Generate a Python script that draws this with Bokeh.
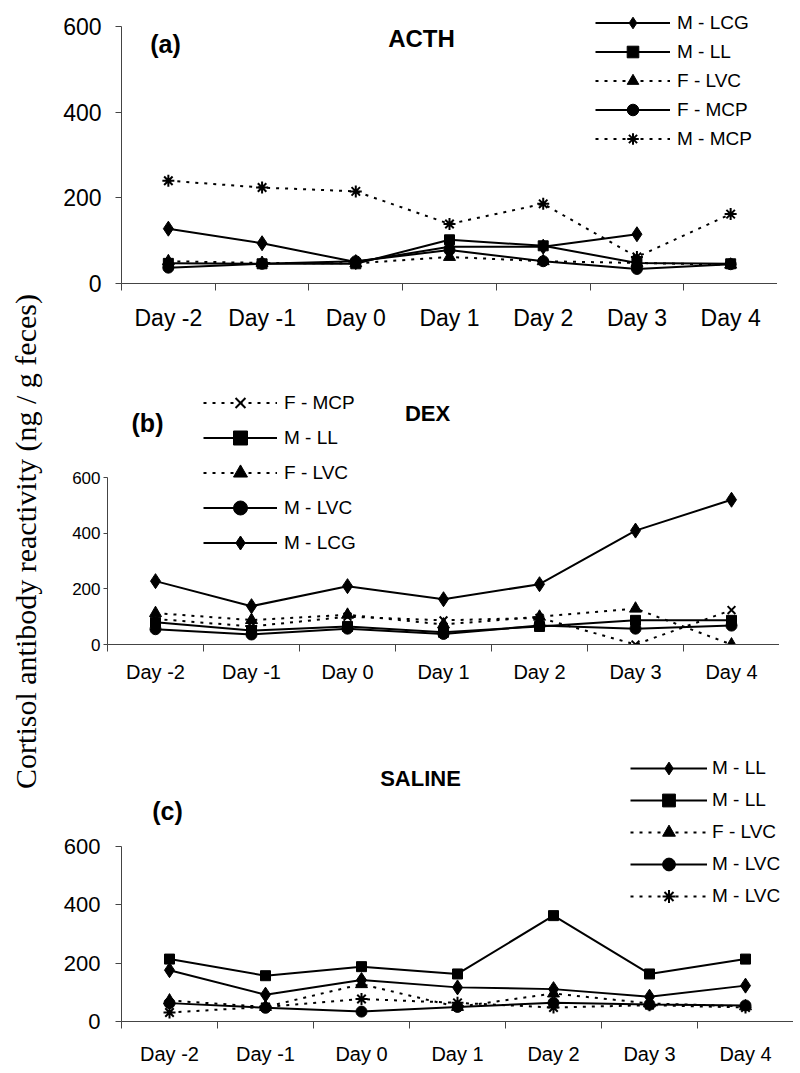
import numpy as np
from bokeh.plotting import figure
from bokeh.models import Range1d, FixedTicker, Legend, LegendItem, Label
from bokeh.layouts import row, column
from bokeh.embed import file_html
from bokeh.resources import INLINE

nan = float("nan")

# ---------------- data ----------------
days = ["Day -2", "Day -1", "Day 0", "Day 1", "Day 2", "Day 3", "Day 4"]
days_c = ["Day -2", "Day -1", "Day 0", "Day 1", "Day 2", "Day 3", "Day 4"]
y_ticks = [0, 200, 400, 600]
y_title = "Cortisol antibody reactivity (ng / g feces)"

# (a) ACTH
acth_labels = ["M - LCG", "M - LL", "F - LVC", "F - MCP", "M - MCP"]
acth_m_lcg = [128, 94, 50, 86, 86, 115, nan]
acth_m_ll = [47, 46, 46, 102, 88, 48, 46]
acth_f_lvc = [52, 48, 47, 62, 52, 48, 44]
acth_f_mcp = [37, 46, 52, 78, 52, 34, 45]
acth_m_mcp = [240, 224, 215, 139, 186, 62, 162]

# (b) DEX
dex_labels = ["F - MCP", "M - LL", "F - LVC", "M - LVC", "M - LCG"]
dex_f_mcp = [92, 65, 100, 87, 96, 0, 124]
dex_m_ll = [80, 50, 65, 44, 65, 87, 87]
dex_f_lvc = [113, 88, 107, 72, 100, 129, 0]
dex_m_lvc = [55, 36, 57, 38, 68, 57, 68]
dex_m_lcg = [228, 138, 210, 163, 217, 410, 521]

# (c) SALINE
sal_labels = ["M - LL", "M - LL", "F - LVC", "M - LVC", "M - LVC"]
sal_m_ll_d = [176, 92, 142, 117, 111, 85, 123]
sal_m_ll_s = [214, 157, 188, 163, 363, 163, 214]
sal_f_lvc = [72, 50, 128, 50, 96, 62, 52]
sal_m_lvc_c = [63, 47, 34, 50, 64, 58, 55]
sal_m_lvc_st = [31, 50, 77, 64, 48, 56, 48]

SANS = "Liberation Sans"
DOT = "3 6"
AX = "#444444"
LABEL_W = 44


def add_series(p, cats, vals, marker, dotted):
    x = np.arange(1, len(cats) + 1)
    y = np.array(vals, dtype=float)
    rs = [p.line(x, y, line_color="black", line_width=2,
                 line_dash=DOT if dotted else "solid")]
    if marker == "diamond":
        rs.append(p.scatter(x, y, marker="diamond", size=15,
                            fill_color="black", line_color="black"))
    elif marker == "square":
        rs.append(p.scatter(x, y, marker="square", size=10,
                            fill_color="black", line_color="black"))
    elif marker == "triangle":
        rs.append(p.scatter(x, y, marker="triangle", size=12,
                            fill_color="black", line_color="black"))
    elif marker == "circle":
        rs.append(p.scatter(x, y, marker="circle", size=11,
                            fill_color="black", line_color="black"))
    elif marker == "x":
        rs.append(p.scatter(x, y, marker="x", size=11, line_width=2,
                            line_color="black"))
    elif marker == "star":
        rs.append(p.scatter(x, y, marker="asterisk", size=12, line_width=2,
                            line_color="black"))
    return rs


def make_panel(cats, width, height, bl, bb, px_per_600, yfont, xfont,
               ytick_out, ystandoff, xstandoff):
    # frame spans from the top of the figure to the x axis; the y axis line
    # is bounded to 0..600 so the space above holds titles and legend
    n = len(cats)
    frame_h = height - bb
    y_end = frame_h * y_ticks[-1] / px_per_600
    p = figure(width=width, height=height, x_range=Range1d(0.5, n + 0.5),
               y_range=Range1d(0, y_end),
               output_backend="svg", toolbar_location=None,
               min_border_left=bl, min_border_right=0,
               min_border_top=0, min_border_bottom=bb)
    p.outline_line_color = None
    p.grid.visible = False
    p.background_fill_color = None
    p.border_fill_color = None
    xa = p.xaxis[0]
    xa.ticker = FixedTicker(ticks=list(range(1, n + 1)),
                            minor_ticks=list(np.arange(n + 1) + 0.5))
    xa.major_label_overrides = {i + 1: c for i, c in enumerate(cats)}
    xa.major_tick_out = 0
    xa.major_tick_in = 0
    xa.minor_tick_out = 7
    xa.minor_tick_in = 0
    xa.minor_tick_line_color = AX
    xa.axis_line_color = AX
    xa.major_label_text_font = SANS
    xa.major_label_text_font_size = xfont
    xa.major_label_text_color = "black"
    xa.major_label_standoff = xstandoff
    ya = p.yaxis[0]
    ya.ticker = FixedTicker(ticks=y_ticks, minor_ticks=[])
    ya.bounds = (y_ticks[0], y_ticks[-1])
    ya.major_tick_out = ytick_out
    ya.major_tick_in = 0
    ya.minor_tick_out = 0
    ya.major_tick_line_color = AX
    ya.axis_line_color = AX
    ya.major_label_text_font = SANS
    ya.major_label_text_font_size = yfont
    ya.major_label_text_color = "black"
    ya.major_label_standoff = ystandoff
    return p


def add_legend(p, items, loc, glyph_w, pitch, standoff, font):
    lg = Legend(items=[LegendItem(label=l, renderers=r) for l, r in items],
                location=loc, orientation="vertical",
                label_text_font=SANS, label_text_font_size=font,
                label_text_color="black",
                glyph_width=glyph_w, glyph_height=pitch, label_height=pitch,
                label_width=80, spacing=0, padding=0, margin=0,
                label_standoff=standoff,
                border_line_color=None, background_fill_alpha=0)
    p.add_layout(lg)


def add_text(p, sx, sy, text, size):
    p.add_layout(Label(x=sx, y=sy, x_units="screen", y_units="screen",
                       text=text, text_font=SANS, text_font_style="bold",
                       text_font_size=size, text_align="center",
                       text_baseline="middle", text_color="black"))


# ---------------- panel (a) ----------------
pa = make_panel(days, 733, 360, 77, 77, 257, "23px", "23px", 6, 14, 14)
ra = [add_series(pa, days, acth_m_lcg, "diamond", False),
      add_series(pa, days, acth_m_ll, "square", False),
      add_series(pa, days, acth_f_lvc, "triangle", True),
      add_series(pa, days, acth_f_mcp, "circle", False),
      add_series(pa, days, acth_m_mcp, "star", True)]
add_legend(pa, list(zip(acth_labels, ra)), (474, 130), 75, 29, 7, "19px")
add_text(pa, 44, 240, "(a)", "25px")
add_text(pa, 300, 245, "ACTH", "24px")

# ---------------- panel (b) ----------------
pb = make_panel(days, 757, 340, 77, 56, 166.7, "17px", "20px", 4, 3, 9)
pb.margin = (0, 0, 0, -14)
rb = [add_series(pb, days, dex_f_mcp, "x", True),
      add_series(pb, days, dex_m_ll, "square", False),
      add_series(pb, days, dex_f_lvc, "triangle", True),
      add_series(pb, days, dex_m_lvc, "circle", False),
      add_series(pb, days, dex_m_lcg, "diamond", False)]
add_legend(pb, list(zip(dex_labels, rb)), (96, 84), 74, 35, 7, "19px")
add_text(pb, 40, 222, "(b)", "25px")
add_text(pb, 320, 231, "DEX", "22px")

# ---------------- panel (c) ----------------
pc = make_panel(days_c, 749, 373, 77, 52, 175, "22px", "20px", 6, 15, 14)
rc = [add_series(pc, days_c, sal_m_ll_d, "diamond", False),
      add_series(pc, days_c, sal_m_ll_s, "square", False),
      add_series(pc, days_c, sal_f_lvc, "triangle", True),
      add_series(pc, days_c, sal_m_lvc_c, "circle", False),
      add_series(pc, days_c, sal_m_lvc_st, "star", True)]
add_legend(pc, list(zip(sal_labels, rc)), (509, 109), 77, 32, 5, "19px")
add_text(pc, 46, 211, "(c)", "25px")
add_text(pc, 299, 243, "SALINE", "22px")

# ---------------- shared y title ----------------
TOTAL_H = 360 + 340 + 373
lab = figure(width=LABEL_W, height=TOTAL_H, x_range=Range1d(0, LABEL_W),
             y_range=Range1d(0, TOTAL_H), output_backend="svg",
             toolbar_location=None, x_axis_location=None,
             y_axis_location=None, min_border=0)
lab.grid.visible = False
lab.outline_line_color = None
lab.add_layout(Label(x=25, y=532, text=y_title, angle=90, angle_units="deg",
                     text_align="center", text_baseline="middle",
                     text_font="Liberation Serif", text_font_size="30px",
                     text_color="black"))

layout = row(lab, column(pa, pb, pc, spacing=0), spacing=0)
open("out.html", "w").write(file_html(layout, INLINE))
